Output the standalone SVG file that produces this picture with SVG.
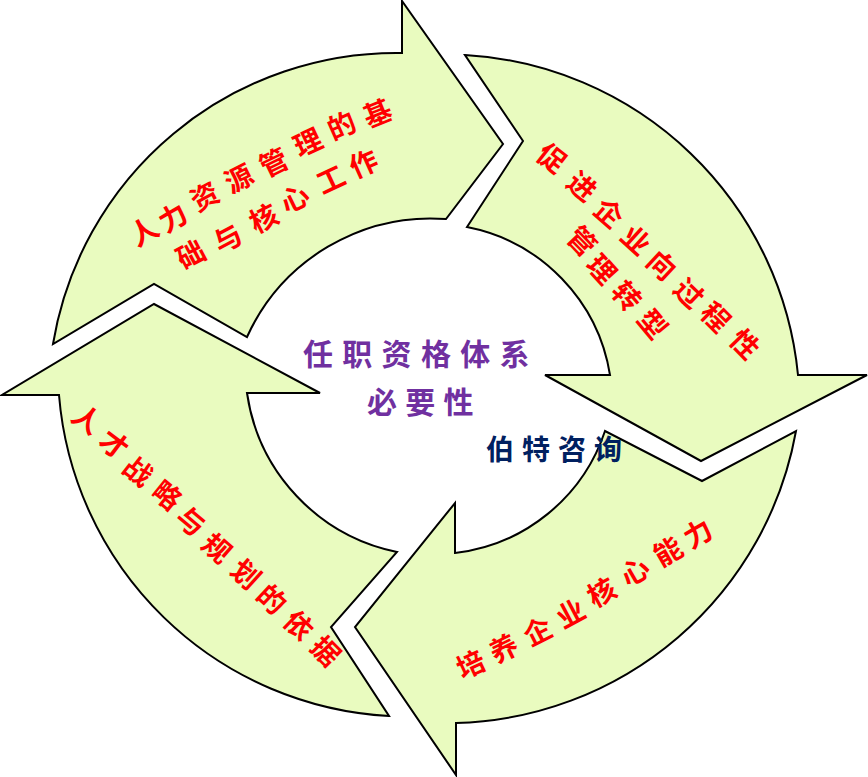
<svg xmlns="http://www.w3.org/2000/svg" width="868" height="777" viewBox="0 0 868 777">
<style>
.arrow{fill:#e9fbbf;stroke:#000;stroke-width:2;stroke-linejoin:miter}
.r{font-family:"Noto Sans CJK SC","Noto Sans CJK JP",sans-serif;font-size:28px;font-weight:bold;fill:#ff0000;text-anchor:middle;dominant-baseline:central}
.c{font-family:"Noto Sans CJK SC","Noto Sans CJK JP",sans-serif;font-weight:bold;dominant-baseline:central}
</style>
<rect width="868" height="777" fill="#fff"/>
<g id="arrow-top">
<path class="arrow" d="M53,344 A348,348 0 0 1 402,53 L402,1 L503,144 L446,219 A202,202 0 0 0 247,337 L154,284 Z"/>
<g>
<text class="r" transform="translate(143,230) rotate(-30)">人</text>
<text class="r" transform="translate(172,216) rotate(-30)">力</text>
<text class="r" transform="translate(204,195) rotate(-28)">资</text>
<text class="r" transform="translate(238,177) rotate(-27)">源</text>
<text class="r" transform="translate(273,161) rotate(-26)">管</text>
<text class="r" transform="translate(307,141) rotate(-25)">理</text>
<text class="r" transform="translate(341,124) rotate(-24)">的</text>
<text class="r" transform="translate(377,112) rotate(-22)">基</text>
<text class="r" transform="translate(190,253) rotate(-28)">础</text>
<text class="r" transform="translate(227,237) rotate(-28)">与</text>
<text class="r" transform="translate(263,217) rotate(-27)">核</text>
<text class="r" transform="translate(294,197) rotate(-26)">心</text>
<text class="r" transform="translate(330,178) rotate(-25)">工</text>
<text class="r" transform="translate(363,162) rotate(-24)">作</text>
</g>
</g>
<g id="arrow-right">
<path class="arrow" d="M465,55 A355,355 0 0 1 798,375 L867,375 L701,461 L545,375 L610,375 A180,180 0 0 0 467,227 L523,141 Z"/>
<g>
<text class="r" transform="translate(553,157) rotate(38)">促</text>
<text class="r" transform="translate(583,185) rotate(40)">进</text>
<text class="r" transform="translate(610,212) rotate(41)">企</text>
<text class="r" transform="translate(637,239) rotate(42)">业</text>
<text class="r" transform="translate(663,264) rotate(43)">向</text>
<text class="r" transform="translate(690,292) rotate(44)">过</text>
<text class="r" transform="translate(717,316) rotate(45)">程</text>
<text class="r" transform="translate(746,343) rotate(46)">性</text>
<text class="r" transform="translate(583,240) rotate(46)">管</text>
<text class="r" transform="translate(603,268) rotate(48)">理</text>
<text class="r" transform="translate(628,295) rotate(49)">转</text>
<text class="r" transform="translate(654,323) rotate(50)">型</text>
</g>
</g>
<g id="arrow-bottom">
<path class="arrow" d="M796,431 A355,355 0 0 1 456,723 L456,775 L355,627 L455,503 L455,553 A180,180 0 0 0 605,431 L702,481 Z"/>
<g>
<text class="r" transform="translate(470,663) rotate(-25)">培</text>
<text class="r" transform="translate(503,647) rotate(-26)">养</text>
<text class="r" transform="translate(537,630) rotate(-27)">企</text>
<text class="r" transform="translate(570,612) rotate(-28)">业</text>
<text class="r" transform="translate(601,591) rotate(-29)">核</text>
<text class="r" transform="translate(634,570) rotate(-30)">心</text>
<text class="r" transform="translate(667,550) rotate(-30)">能</text>
<text class="r" transform="translate(697,532) rotate(-30)">力</text>
</g>
</g>
<g id="arrow-left">
<path class="arrow" d="M389,716 A350,350 0 0 1 59,395 L2,395 L154,304 L320,393 L247,393 A190,190 0 0 0 397,552 L331,627 Z"/>
<g>
<text class="r" transform="translate(88,418) rotate(36)">人</text>
<text class="r" transform="translate(115,443) rotate(37)">才</text>
<text class="r" transform="translate(139,470) rotate(38)">战</text>
<text class="r" transform="translate(168,494) rotate(39)">略</text>
<text class="r" transform="translate(192,520) rotate(40)">与</text>
<text class="r" transform="translate(218,547) rotate(41)">规</text>
<text class="r" transform="translate(247,573) rotate(42)">划</text>
<text class="r" transform="translate(273,598) rotate(43)">的</text>
<text class="r" transform="translate(300,624) rotate(44)">依</text>
<text class="r" transform="translate(327,650) rotate(45)">据</text>
</g>
</g>
<g id="center">
<text class="c" x="303" y="352" font-size="30" letter-spacing="9.3" fill="#7030a0">任职资格体系</text>
<text class="c" x="367" y="400" font-size="30" letter-spacing="8.3" fill="#7030a0">必要性</text>
<text class="c" x="486" y="448" font-size="28" letter-spacing="8" fill="#002060">伯特咨询</text>
</g>
</svg>
